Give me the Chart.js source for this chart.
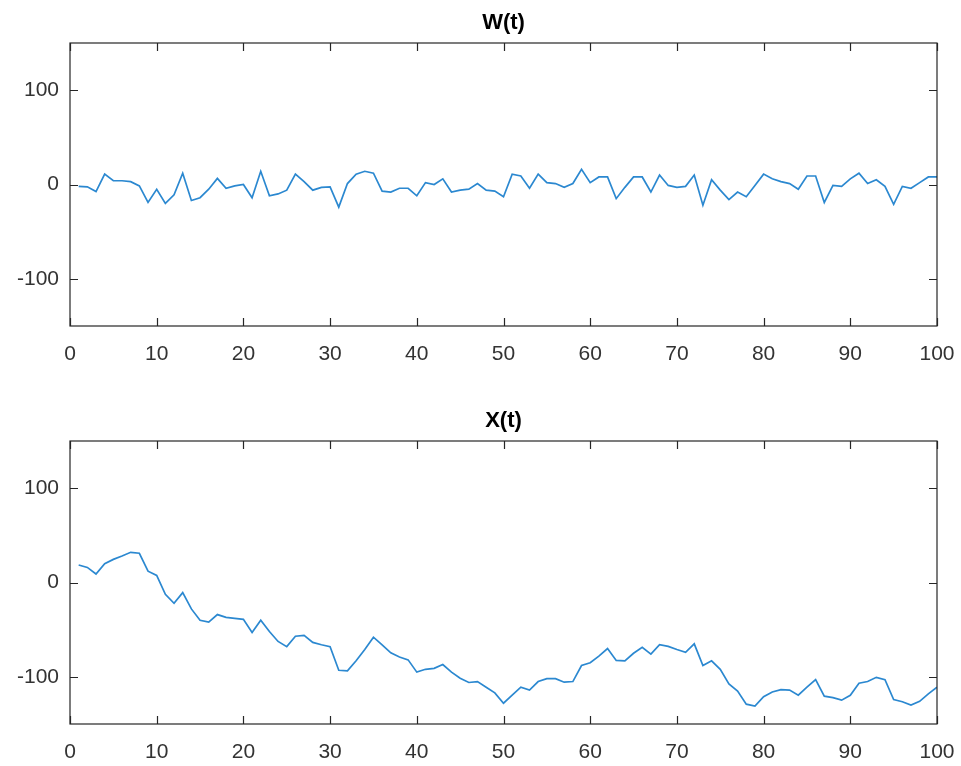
<!DOCTYPE html>
<html>
<head>
<meta charset="utf-8">
<script src="https://cdn.jsdelivr.net/npm/chart.js@4"></script>
<style>
  html, body { margin: 0; padding: 0; background: #fff; }
  .panel { position: absolute; left: 0; width: 961px; }
  #top { top: 0; height: 383px; }
  #bottom { top: 383px; height: 383px; }
</style>
</head>
<body>
<div class="panel" id="top"><canvas id="wChart" width="961" height="383"></canvas></div>
<div class="panel" id="bottom"><canvas id="xChart" width="961" height="383"></canvas></div>
<script>
// time steps
const t = [
    1, 2, 3, 4, 5, 6, 7, 8, 9, 10, 11, 12, 13, 14, 15, 16, 17, 18, 19, 20,
    21, 22, 23, 24, 25, 26, 27, 28, 29, 30, 31, 32, 33, 34, 35, 36, 37, 38, 39, 40,
    41, 42, 43, 44, 45, 46, 47, 48, 49, 50, 51, 52, 53, 54, 55, 56, 57, 58, 59, 60,
    61, 62, 63, 64, 65, 66, 67, 68, 69, 70, 71, 72, 73, 74, 75, 76, 77, 78, 79, 80,
    81, 82, 83, 84, 85, 86, 87, 88, 89, 90, 91, 92, 93, 94, 95, 96, 97, 98, 99, 100,
];

// noise W(t)
const wValues = [
    -2, -2.5, -7.5, 11, 4, 4, 3, -1.5, -19, -5,
    -20, -11, 12, -17, -14, -5, 6.5, -4, -1.5, 0,
    -14, 14, -12, -10, -6, 11, 3, -6, -3, -2.5,
    -24, 1, 11, 14, 12, -7, -8, -4, -4, -12,
    2, 0, 6, -8, -6, -5, 1, -6, -7, -13,
    11, 9, -4, 11, 2, 1, -3, 1, 16, 2,
    8, 8, -15, -3, 8, 8, -8, 10, -1, -3,
    -2, 10, -22, 5, -6, -16, -8, -13, -1, 11,
    6, 3, 1, -5, 9, 9, -19, -1, -2, 6,
    12, 1, 5, -2, -21, -2, -4, 2, 8, 8,
];

// random walk X(t)
const xValues = [
    18.6, 16, 9, 20, 24.5, 28, 32, 31, 12, 7.5,
    -12.5, -22, -10.7, -28, -40, -42, -34, -37, -38, -39,
    -53, -40, -52, -62.5, -68, -57, -56, -63.5, -66, -68,
    -93, -93.6, -83, -71, -58, -66, -74.6, -79, -82, -95,
    -92, -91, -87, -95, -101.5, -106, -105, -111, -117, -128,
    -119.5, -111, -114, -105, -102, -102, -105.7, -105, -88, -85,
    -78, -70, -82.6, -83, -75, -68.7, -76, -66, -67.7, -71,
    -74, -65, -88, -83, -92, -107.5, -115, -129, -131, -121,
    -116, -113.6, -114, -119.5, -111, -103, -120.5, -122, -124.7, -119.5,
    -106.7, -105, -100.5, -103, -124, -126.4, -130, -126, -118, -111,
];

const xTicks = [0, 10, 20, 30, 40, 50, 60, 70, 80, 90, 100];
const yTicks = [-100, 0, 100];

const AXIS = '#262626';
const LINE = '#2b88d0';
const FONT = '"Liberation Sans", Arial, Helvetica, sans-serif';

// box around the axes, inward tick marks, and the title centred over the plot area
const boxTicks = {
    id: 'boxTicks',
    afterDraw(chart, args, opts) {
        const { ctx, chartArea: a, scales } = chart;
        const len = 8;
        ctx.save();
        ctx.strokeStyle = AXIS;
        ctx.lineWidth = 1.2;
        ctx.strokeRect(a.left, a.top, a.right - a.left, a.bottom - a.top);
        ctx.beginPath();
        xTicks.forEach((v) => {
            const px = Math.round(scales.x.getPixelForValue(v)) + 0.5;
            ctx.moveTo(px, a.bottom);
            ctx.lineTo(px, a.bottom - len);
            ctx.moveTo(px, a.top);
            ctx.lineTo(px, a.top + len);
        });
        yTicks.forEach((v) => {
            const py = Math.round(scales.y.getPixelForValue(v)) + 0.5;
            ctx.moveTo(a.left, py);
            ctx.lineTo(a.left + len, py);
            ctx.moveTo(a.right, py);
            ctx.lineTo(a.right - len, py);
        });
        ctx.stroke();

        ctx.fillStyle = '#000';
        ctx.font = 'bold 22px ' + FONT;
        ctx.textAlign = 'center';
        ctx.textBaseline = 'middle';
        ctx.fillText(opts.text, (a.left + a.right) / 2, opts.y);
        ctx.restore();
    },
};

function renderPanel(canvasId, title, values, box) {
    const canvas = document.getElementById(canvasId);
    const ctx = canvas.getContext('2d');
    const H = canvas.height;

    new Chart(ctx, {
        type: 'line',
        data: {
            datasets: [{
                data: t.map((x, i) => ({ x: x, y: values[i] })),
                borderColor: LINE,
                borderWidth: 1.7,
                pointRadius: 0,
                tension: 0,
                fill: false,
            }],
        },
        options: {
            responsive: false,
            devicePixelRatio: 1,
            animation: false,
            layout: { padding: { left: 0, right: 24, top: box.top, bottom: 0 } },
            plugins: {
                legend: { display: false },
                tooltip: { enabled: false },
                boxTicks: { text: title, y: box.titleY },
            },
            scales: {
                x: {
                    type: 'linear',
                    min: 0,
                    max: 100,
                    afterBuildTicks: (s) => { s.ticks = xTicks.map((v) => ({ value: v })); },
                    afterFit: (s) => {
                        s.height = H - box.bottom;
                        s.paddingLeft = 0;
                        s.paddingRight = 0;
                    },
                    grid: { display: false, drawTicks: false },
                    border: { display: false },
                    ticks: {
                        color: '#333',
                        padding: 16,
                        maxRotation: 0,
                        font: { family: FONT, size: 21 },
                    },
                },
                y: {
                    min: -150,
                    max: 150,
                    afterBuildTicks: (s) => { s.ticks = yTicks.map((v) => ({ value: v })); },
                    afterFit: (s) => { s.width = 70; },
                    grid: { display: false, drawTicks: false },
                    border: { display: false },
                    ticks: {
                        color: '#333',
                        padding: 11,
                        font: { family: FONT, size: 21 },
                    },
                },
            },
        },
        plugins: [boxTicks],
    });
}

renderPanel('wChart', 'W(t)', wValues, { top: 43, bottom: 326, titleY: 23 });
renderPanel('xChart', 'X(t)', xValues, { top: 58, bottom: 341, titleY: 38 });
</script>
</body>
</html>
